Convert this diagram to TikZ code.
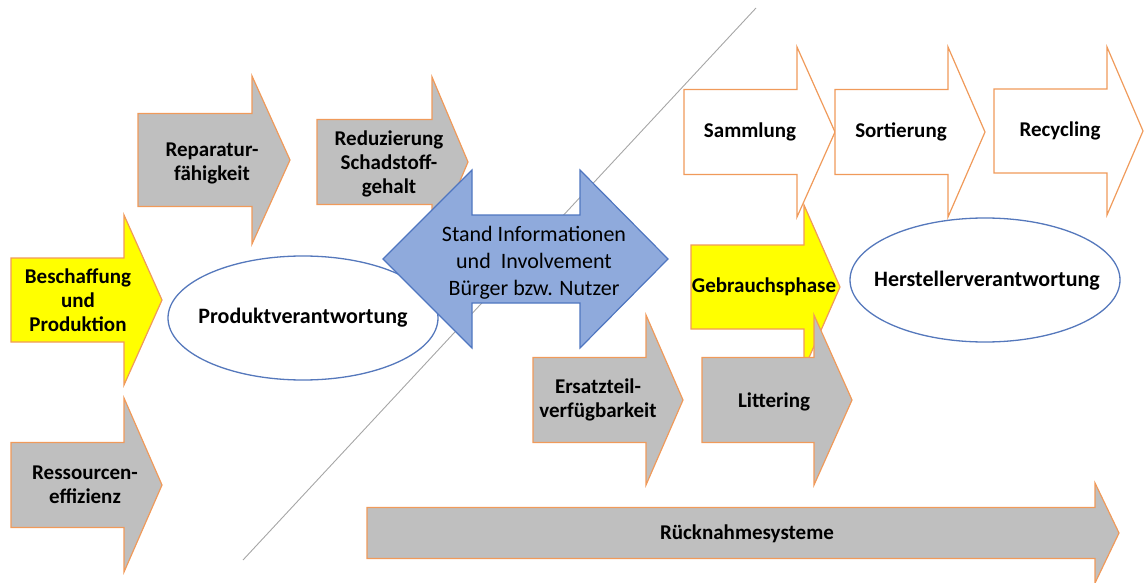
\documentclass[tikz,border=0pt]{standalone}
\usepackage{fontspec}
\setmainfont{Carlito}
\definecolor{arrgray}{HTML}{BFBFBF}
\definecolor{arrorange}{HTML}{F09A5A}
\definecolor{arryellow}{HTML}{FFFF00}
\definecolor{arrblue}{HTML}{8FAADC}
\definecolor{arrblueline}{HTML}{4F76C0}
\definecolor{ellline}{HTML}{5578BC}
\definecolor{divline}{HTML}{A6A6A6}
\tikzset{
  grayarrow/.style={fill=arrgray, draw=arrorange, line width=1.2pt, line join=miter},
  yellowarrow/.style={fill=arryellow, draw=arrorange, line width=1.2pt, line join=miter},
  whitearrow/.style={fill=white, draw=arrorange, line width=1.2pt, line join=miter},
  bluearrow/.style={fill=arrblue, draw=arrblueline, line width=1.2pt, line join=miter},
  ovalbox/.style={fill=white, draw=ellline, line width=1.3pt},
  boldlabel/.style={font=\fontsize{21}{24}\selectfont\bfseries, align=center, inner sep=0pt},
  ovallabel/.style={font=\fontsize{22}{26}\selectfont\bfseries, align=center, inner sep=0pt},
  bluelabel/.style={font=\fontsize{22}{27}\selectfont, align=center, inner sep=0pt},
  divider/.style={draw=divline, line width=0.9pt}
}
% style, x0, xnotch, xtip, ycenter, half shaft, half head
\newcommand\flowarrow[7]{%
  \path[#1] (#2,#5-#6) -- (#3,#5-#6) -- (#3,#5-#7) -- (#4,#5)
    -- (#3,#5+#7) -- (#3,#5+#6) -- (#2,#5+#6) -- cycle;}
\begin{document}
\begin{tikzpicture}[x=1pt,y=-1pt]
\useasboundingbox (0,0) rectangle (1145,583);
% divider line
\coordinate (divtop) at (756,8);
\coordinate (divbot) at (243,560);
\draw[divider] (divtop) -- (divbot);
% left ellipse
\draw[ovalbox] (303,318) ellipse [x radius=135, y radius=62];
\node[ovallabel] (produkt) at (303,318) {Produktverantwortung};
% left column arrows
\flowarrow{yellowarrow}{11}{124}{162}{300}{42}{85}
\node[boldlabel] (beschaffung) at (78,300) {Beschaffung\\und\\Produktion};
\flowarrow{grayarrow}{11}{124}{162}{485}{42.5}{87}
\node[boldlabel] (ressourcen) at (85,485) {Ressourcen-\\effizienz};
\flowarrow{grayarrow}{138}{252}{290}{160}{46.5}{84}
\node[boldlabel] (reparatur) at (212,163) {Reparatur-\\fähigkeit};
\flowarrow{grayarrow}{317}{432}{468}{162}{42.5}{85}
\node[boldlabel] (reduzierung) at (389,164) {Reduzierung\\Schadstoff-\\gehalt};
% blue double arrow
\path[bluearrow] (383,259) -- (472,170) -- (472,215) -- (580,215) -- (580,170)
  -- (668,259) -- (580,348) -- (580,303) -- (472,303) -- (472,348) -- cycle;
\node[bluelabel] (stand) at (534,263) {Stand Informationen\\und~~Involvement\\Bürger bzw. Nutzer};
% top right chain
\flowarrow{whitearrow}{684}{797}{835}{132}{42.5}{85}
\node[boldlabel] (sammlung) at (750,132) {Sammlung};
\flowarrow{whitearrow}{835}{948}{985}{132}{42.5}{85}
\node[boldlabel] (sortierung) at (901,132) {Sortierung};
\flowarrow{whitearrow}{994}{1107}{1143}{131}{42}{84}
\node[boldlabel] (recycling) at (1060,131) {Recycling};
% use phase
\flowarrow{yellowarrow}{691}{804}{840}{287}{42}{82}
\node[boldlabel] (gebrauch) at (764,287) {Gebrauchsphase};
% right ellipse
\draw[ovalbox] (985,280) ellipse [x radius=135, y radius=62];
\node[ovallabel] (hersteller) at (987,281) {Herstellerverantwortung};
% lower arrows
\flowarrow{grayarrow}{533}{646}{683}{400}{42.5}{85}
\node[boldlabel] (ersatzteil) at (598,400) {Ersatzteil-\\verfügbarkeit};
\flowarrow{grayarrow}{702}{814}{852}{400}{42.5}{85}
\node[boldlabel] (littering) at (774,402) {Littering};
% take-back systems
\flowarrow{grayarrow}{367}{1095}{1119}{533}{25.5}{50}
\node[boldlabel] (ruecknahme) at (747,534) {Rücknahmesysteme};
\end{tikzpicture}
\end{document}
